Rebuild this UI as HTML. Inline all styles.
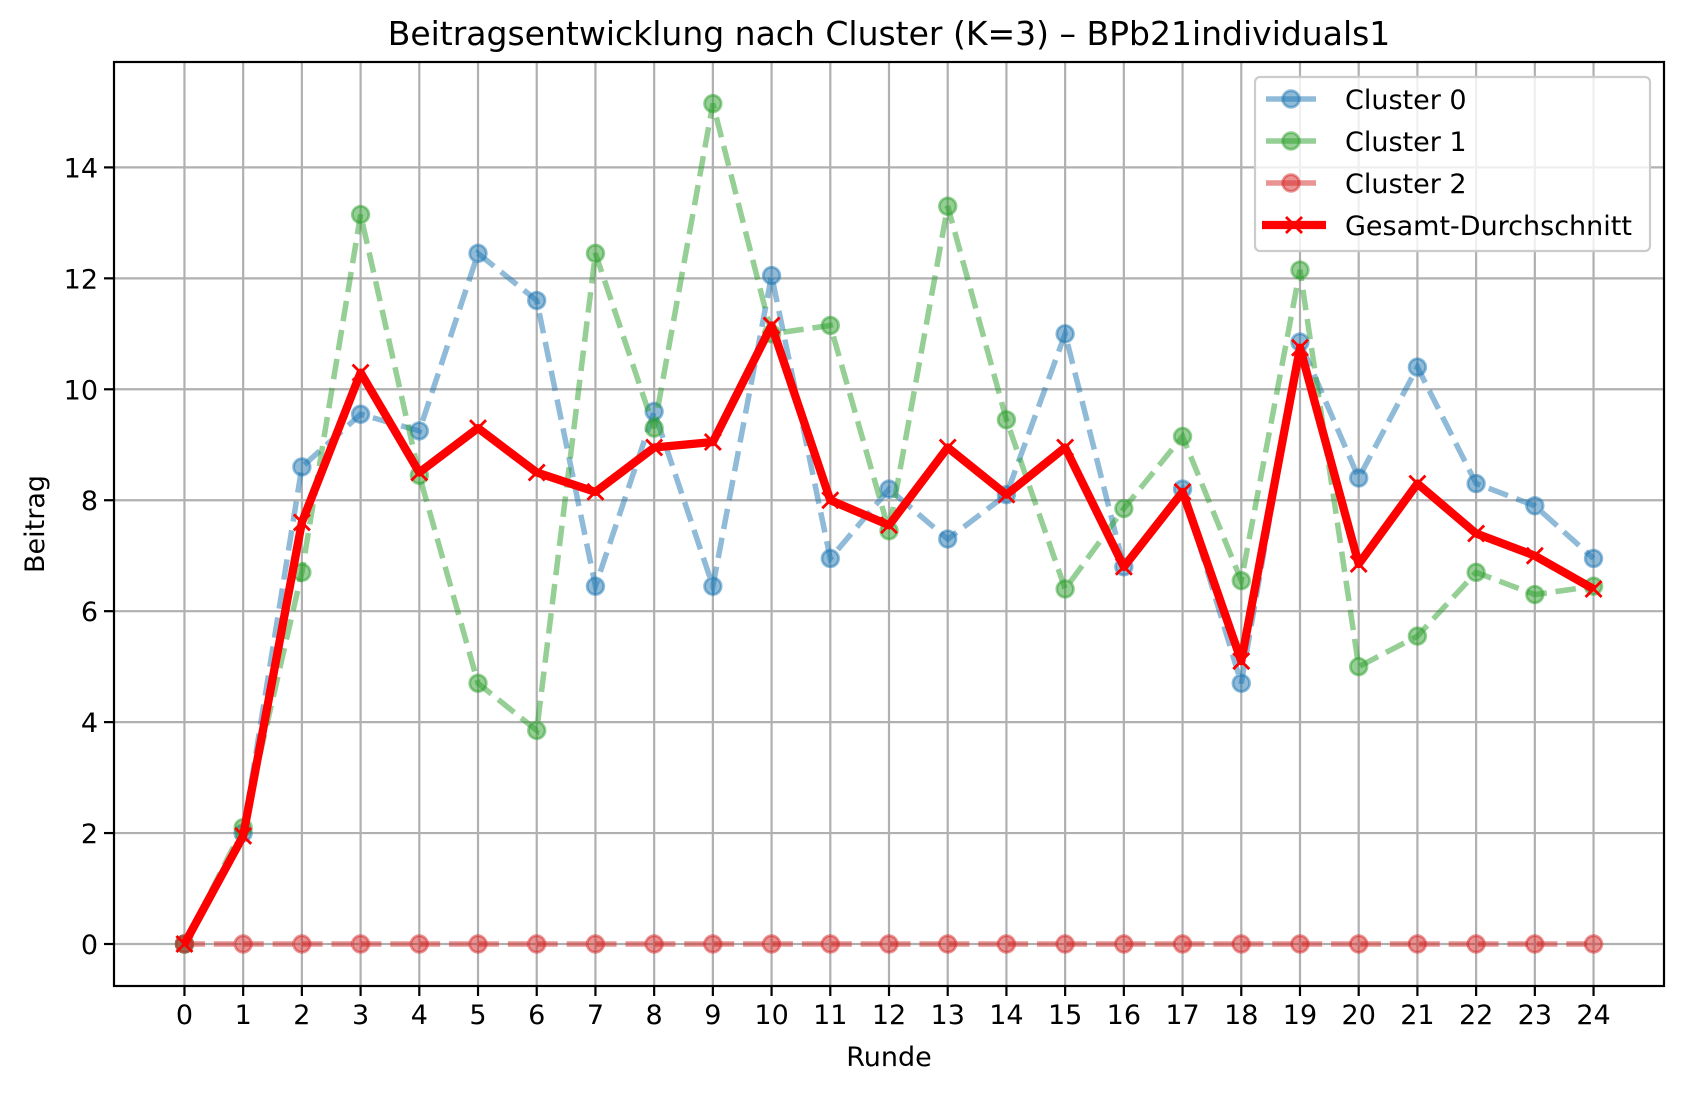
<!DOCTYPE html>
<html><head><meta charset="utf-8"><style>
html,body{margin:0;padding:0;background:#fff;}
svg{display:block;font-family:"DejaVu Sans","Liberation Sans",sans-serif;}
</style></head><body>
<svg id="chart" width="1683" height="1093" viewBox="0 0 1683 1093" xmlns="http://www.w3.org/2000/svg">
<rect x="0" y="0" width="1683" height="1093" fill="#fff"/>
<text x="889" y="45" font-size="33" text-anchor="middle" fill="#000">Beitragsentwicklung nach Cluster (K=3) – BPb21individuals1</text>
<g id="grid"></g>
<g id="series"></g>
<rect x="114" y="62" width="1550" height="924" fill="none" stroke="#000" stroke-width="2.2"/>
<g id="axes"></g>
<text x="889" y="1066" font-size="27" text-anchor="middle">Runde</text>
<text transform="translate(44,524) rotate(-90)" font-size="27" text-anchor="middle">Beitrag</text>
<g id="legend"></g>
</svg>
<script>
const rounds = [0,1,2,3,4,5,6,7,8,9,10,11,12,13,14,15,16,17,18,19,20,21,22,23,24];
const cluster0 = [0,2.0,8.6,9.55,9.25,12.45,11.6,6.45,9.6,6.45,12.05,6.95,8.2,7.3,8.1,11.0,6.8,8.2,4.7,10.85,8.4,10.4,8.3,7.9,6.95];
const cluster1 = [0,2.1,6.7,13.15,8.45,4.7,3.85,12.45,9.3,15.15,11.0,11.15,7.45,13.3,9.45,6.4,7.85,9.15,6.55,12.15,5.0,5.55,6.7,6.3,6.45];
const cluster2 = [0,0,0,0,0,0,0,0,0,0,0,0,0,0,0,0,0,0,0,0,0,0,0,0,0];
const average = [0,1.95,7.6,10.3,8.5,9.3,8.5,8.15,8.95,9.05,11.15,8.0,7.55,8.95,8.1,8.95,6.8,8.15,5.1,10.75,6.85,8.3,7.4,7.0,6.4];
const yTicks = [0,2,4,6,8,10,12,14];
const legendLabels = ["Cluster 0","Cluster 1","Cluster 2","Gesamt-Durchschnitt"];

const NS="http://www.w3.org/2000/svg";
const L=114,R=1664,T=62,B=986;
const xmin=-1.2,xmax=25.2,ymin=-0.757,ymax=15.9;
const sx=v=>L+(v-xmin)/(xmax-xmin)*(R-L);
const sy=v=>B-(v-ymin)/(ymax-ymin)*(B-T);
function mk(tag,attrs,parent){const e=document.createElementNS(NS,tag);for(const k in attrs)e.setAttribute(k,attrs[k]);parent.appendChild(e);return e;}
const grid=document.getElementById('grid'),axes=document.getElementById('axes'),ser=document.getElementById('series'),leg=document.getElementById('legend');

rounds.forEach(r=>{
  const x=sx(r);
  const g=mk('line',{x1:x,x2:x,y1:T,y2:B,stroke:'#b0b0b0','stroke-width':2.2},grid);
  
  
  mk('line',{x1:x,x2:x,y1:B,y2:B+10,stroke:'#000','stroke-width':2.2},axes);
  const t=mk('text',{x:x,y:B+38,'font-size':27,'text-anchor':'middle'},axes);
  t.textContent=r;
  
  
});
yTicks.forEach(v=>{
  const y=sy(v);
  const g=mk('line',{x1:L,x2:R,y1:y,y2:y,stroke:'#b0b0b0','stroke-width':2.2},grid);
  
  
  mk('line',{x1:L-10,x2:L,y1:y,y2:y,stroke:'#000','stroke-width':2.2},axes);
  const t=mk('text',{x:L-16,y:y+10,'font-size':27,'text-anchor':'end'},axes);
  t.textContent=v;
  
  
});

function drawDashed(vals,color,name){
  const g=mk('g',{},ser);
  
  
  const pts=vals.map((v,i)=>sx(rounds[i])+','+sy(v)).join(' ');
  mk('polyline',{points:pts,fill:'none',stroke:color,'stroke-opacity':0.5,'stroke-width':5.5,'stroke-dasharray':'20.5 8.9'},g);
  vals.forEach((v,i)=>{
    const c=mk('circle',{cx:sx(rounds[i]),cy:sy(v),r:8.3,fill:color,'fill-opacity':0.5,stroke:color,'stroke-opacity':0.5,'stroke-width':2.8},g);
    
    
  });
}
drawDashed(cluster0,'#1f77b4','cluster-0-line');
drawDashed(cluster1,'#2ca02c','cluster-1-line');
drawDashed(cluster2,'#d62728','cluster-2-line');

const ag=mk('g',{},ser);


mk('polyline',{points:average.map((v,i)=>sx(rounds[i])+','+sy(v)).join(' '),fill:'none',stroke:'#ff0000','stroke-width':8.3,'stroke-linejoin':'round'},ag);
average.forEach((v,i)=>{
  const x=sx(rounds[i]),y=sy(v),d=8;
  const p=mk('path',{d:`M${x-d},${y-d}L${x+d},${y+d}M${x-d},${y+d}L${x+d},${y-d}`,stroke:'#ff0000','stroke-width':2.8},ag);
  
  
});

const lb=mk('rect',{x:1255,y:77,width:395,height:174,rx:5,fill:'#fff','fill-opacity':0.8,stroke:'#cccccc','stroke-width':2.2},leg);


const lcolors=['#1f77b4','#2ca02c','#d62728','#ff0000'];
legendLabels.forEach((lab,i)=>{
  const y=99+i*42;
  const g=mk('g',{},leg);
  
  
  if(i<3){
    mk('line',{x1:1266,x2:1316,y1:y,y2:y,stroke:lcolors[i],'stroke-opacity':0.5,'stroke-width':5.5},g);
    mk('circle',{cx:1291,cy:y,r:8.3,fill:lcolors[i],'fill-opacity':0.5,stroke:lcolors[i],'stroke-opacity':0.5,'stroke-width':2.8},g);
  }else{
    mk('line',{x1:1262,x2:1326,y1:y,y2:y,stroke:'#ff0000','stroke-width':8.3},g);
    mk('path',{d:`M1286,${y-8}L1302,${y+8}M1286,${y+8}L1302,${y-8}`,stroke:'#ff0000','stroke-width':2.8},g);
  }
  const t=mk('text',{x:1345,y:y+10,'font-size':27},g);
  t.textContent=lab;
});
</script>
</body></html>
